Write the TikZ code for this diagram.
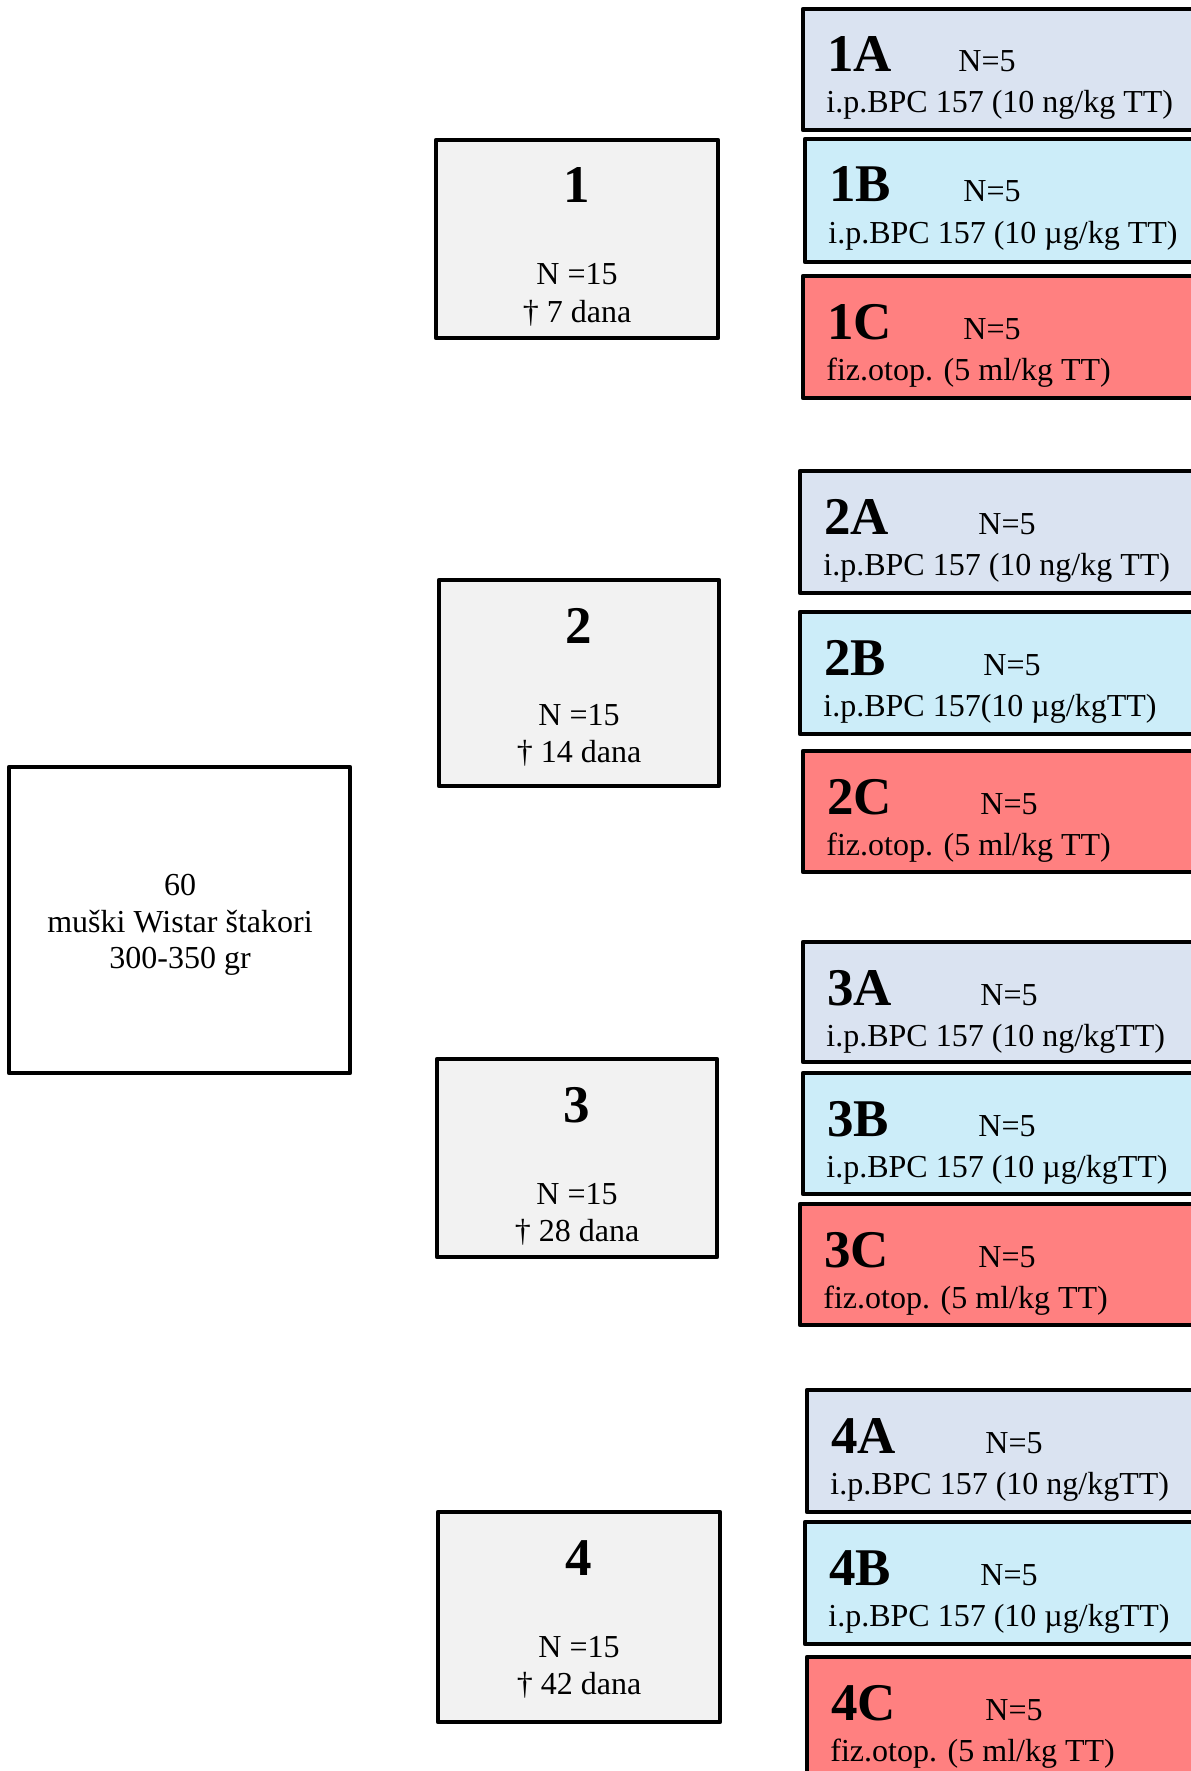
\documentclass[tikz,border=0pt]{standalone}
\usepackage{fontspec}
\setmainfont{Liberation Serif}
\usetikzlibrary{calc}
\definecolor{cA}{HTML}{DAE3F1}
\definecolor{cB}{HTML}{CCEDF9}
\definecolor{cC}{HTML}{FF8080}
\definecolor{cM}{HTML}{F2F2F2}
\tikzset{
  boxline/.style={draw=black, line width=2.4pt, line join=round},
  ttl/.style={font=\fontsize{26.5}{30}\selectfont\bfseries, anchor=base west, inner sep=0pt},
  txt/.style={font=\fontsize{16}{18}\selectfont, anchor=base west, inner sep=0pt},
  ctxt/.style={font=\fontsize{16}{18}\selectfont, anchor=base, inner sep=0pt},
  cttl/.style={font=\fontsize{26.5}{30}\selectfont\bfseries, anchor=base, inner sep=0pt}
}
% #1 name, #2 left, #3 top, #4 bottom, #5 colour, #6 title, #7 N x-offset, #8 second line
\newcommand\grpbox[8]{%
  \draw[boxline, fill=#5] (#2,#3) coordinate (#1) rectangle (1205,#4);
  \node[ttl] (#1t) at ($(#1)+(24,63)$) {#6};
  \node[txt] (#1n) at ($(#1)+(#7,63)$) {N=5};
  \node[txt] (#1d) at ($(#1)+(23,104)$) {#8};
}
% #1 name, #2 left, #3 top, #4 right, #5 bottom, #6 number, #7 days
\newcommand\midbox[7]{%
  \draw[boxline, fill=cM] (#2,#3) coordinate (#1) rectangle (#4,#5);
  \coordinate (#1c) at ($0.5*(#2,#3)+0.5*(#4,#3)$);
  \node[cttl] (#1t) at ($(#1c)+(0,63)$) {#6};
  \node[ctxt] (#1n) at ($(#1c)+(0,145)$) {N =15};
  \node[ctxt] (#1d) at ($(#1c)+(0,182)$) {† #7 dana};
}
\begin{document}
\begin{tikzpicture}[x=0.5pt,y=-0.5pt]
\useasboundingbox (0,0) rectangle (1190,1771);
\fill[white] (0,0) rectangle (1190,1771);

% left box
\draw[boxline] (9,767) coordinate (L) rectangle (350,1073);
\node[ctxt] (L1) at (180,895) {60};
\node[ctxt] (L2) at (180,932) {muški Wistar štakori};
\node[ctxt] (L3) at (180,968) {300-350 gr};

% middle boxes
\midbox{g1}{436}{140}{718}{338}{1}{7}
\midbox{g2}{439}{580}{719}{786}{2}{14}
\midbox{g3}{437}{1059}{717}{1257}{3}{28}
\midbox{g4}{438}{1512}{720}{1722}{4}{42}

% right boxes
\grpbox{a1}{803}{9}{130}{cA}{1A}{155}{i.p.BPC 157 (10 ng/kg TT)}
\grpbox{b1}{805}{139}{262}{cB}{1B}{158}{i.p.BPC 157 (10 µg/kg TT)}
\grpbox{c1}{803}{276}{398}{cC}{1C}{160}{fiz.otop. (5 ml/kg TT)}

\grpbox{a2}{800}{471}{593}{cA}{2A}{178}{i.p.BPC 157 (10 ng/kg TT)}
\grpbox{b2}{800}{612}{734}{cB}{2B}{183}{i.p.BPC 157(10 µg/kgTT)}
\grpbox{c2}{803}{751}{872}{cC}{2C}{177}{fiz.otop. (5 ml/kg TT)}

\grpbox{a3}{803}{942}{1062}{cA}{3A}{177}{i.p.BPC 157 (10 ng/kgTT)}
\grpbox{b3}{803}{1073}{1194}{cB}{3B}{175}{i.p.BPC 157 (10 µg/kgTT)}
\grpbox{c3}{800}{1204}{1325}{cC}{3C}{178}{fiz.otop. (5 ml/kg TT)}

\grpbox{a4}{807}{1390}{1512}{cA}{4A}{178}{i.p.BPC 157 (10 ng/kgTT)}
\grpbox{b4}{805}{1522}{1644}{cB}{4B}{175}{i.p.BPC 157 (10 µg/kgTT)}
\grpbox{c4}{807}{1657}{1790}{cC}{4C}{178}{fiz.otop. (5 ml/kg TT)}
\end{tikzpicture}
\end{document}
